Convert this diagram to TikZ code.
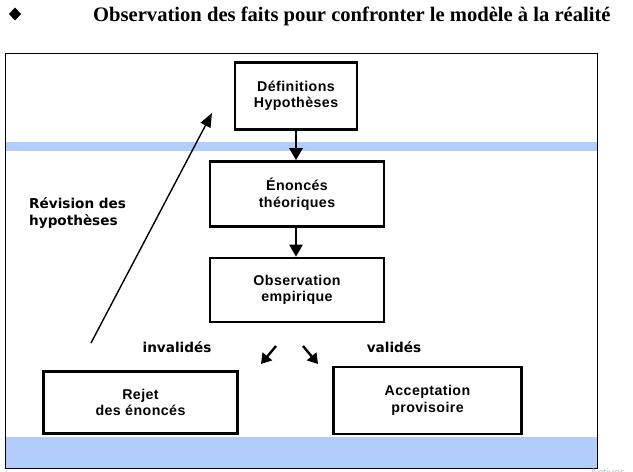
\documentclass[tikz,border=0pt]{standalone}
\usepackage{fontspec}
\setmainfont{Liberation Serif}
\newfontfamily\boxfont[LetterSpace=3]{Liberation Sans}
\newfontfamily\lblfont{DejaVu Sans}
\newfontfamily\wmfont{Liberation Sans}
\usetikzlibrary{arrows.meta}
\definecolor{bandblue}{RGB}{178,204,252}
\tikzset{
  stepbox/.style={draw=black, line width=2.6pt, inner sep=0pt, align=center,
    font=\boxfont\bfseries\fontsize{14.2}{16.5}\selectfont},
  lbl/.style={font=\lblfont\bfseries\fontsize{13.6}{17}\selectfont, inner sep=0pt},
  arr/.style={line width=2.6pt, -{Triangle[length=12pt,width=13pt]}},
  thinarr/.style={line width=1.4pt, -{Triangle[length=14pt,width=11pt]}},
  smallarr/.style={line width=2.4pt, -{Triangle[length=10pt,width=12pt]}}
}
\begin{document}
\begin{tikzpicture}[x=1pt,y=-1pt]
\useasboundingbox (0,0) rectangle (633,472);
\fill[white] (0,0) rectangle (633,472);
% title
\fill[black] (15,7.5) -- (21,14) -- (15,20.5) -- (9,14) -- cycle;
\node[font=\bfseries\fontsize{20.6}{22}\selectfont, anchor=base west, inner sep=0pt] (title) at (93,21) {Observation des faits pour confronter le modèle à la réalité};
% bands
\fill[bandblue] (5.5,142) rectangle (597,151);
\fill[bandblue] (5.5,437) rectangle (597,467.5);
% frame
\draw[line width=1pt] (5.5,53) rectangle (597,468);
% boxes
\node[stepbox, minimum width=122pt, minimum height=67pt] (def) at (296,96) {Définitions\\Hypothèses};
\node[stepbox, minimum width=174pt, minimum height=65pt] (enon) at (297,194) {Énoncés\\théoriques};
\node[stepbox, minimum width=174pt, minimum height=64pt] (obs) at (297,290) {Observation\\empirique};
\node[stepbox, minimum width=194pt, minimum height=62pt] (rejet) at (140.5,402.5) {Rejet\\des énoncés};
\node[stepbox, minimum width=188pt, minimum height=67pt] (accept) at (427.5,400.5) {Acceptation\\provisoire};
% arrows
\draw[arr] (def.south -| 296,0) -- (enon.north -| 296,0);
\draw[arr] (enon.south -| 296,0) -- (obs.north -| 296,0);
\coordinate (sa1) at (276,346);
\coordinate (sa2) at (261,364);
\coordinate (sb1) at (303,346);
\coordinate (sb2) at (318,364);
\draw[smallarr] (sa1) -- (sa2);
\draw[smallarr] (sb1) -- (sb2);
\coordinate (rev1) at (91,343);
\coordinate (rev2) at (212,113);
\draw[thinarr] (rev1) -- (rev2);
% labels
\node[lbl, align=left, anchor=north west] (revl) at (29,197) {Révision des\\hypothèses};
\node[lbl] (inv) at (177,347) {invalidés};
\node[lbl] (val) at (394,347) {validés};
% watermark
\node[font=\wmfont\fontsize{11}{11}\selectfont, text=black!25, anchor=base west, inner sep=0pt] (wm) at (590,476) {Activer};
\end{tikzpicture}
\end{document}
